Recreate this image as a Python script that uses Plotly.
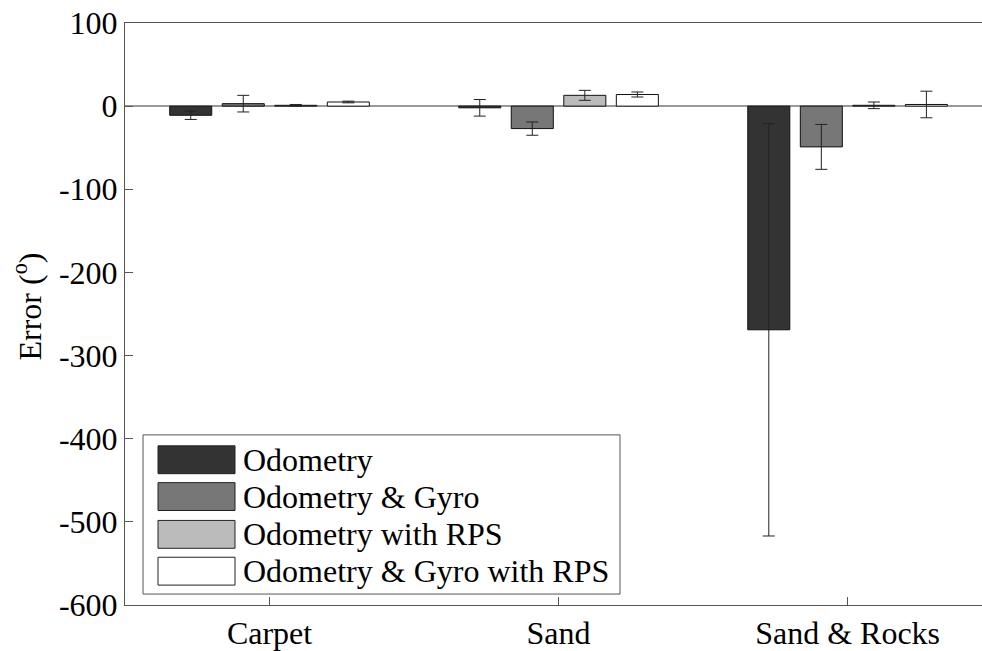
import plotly.graph_objects as go

# Surface types and heading error per method (degrees)
surfaces = ["Carpet", "Sand", "Sand & Rocks"]
methods = ["Odometry", "Odometry & Gyro", "Odometry with RPS", "Odometry & Gyro with RPS"]

odometry = [-11, -2, -269]
odometry_err = [5, 10, 248]
odo_gyro = [3, -27, -49]
odo_gyro_err = [10, 8, 27]
odo_rps = [1, 13, 1]
odo_rps_err = [1, 6, 4]
odo_gyro_rps = [5, 14, 2]
odo_gyro_rps_err = [1, 3, 16]

y_ticks = [100, 0, -100, -200, -300, -400, -500, -600]

series = [odometry, odo_gyro, odo_rps, odo_gyro_rps]
errors = [odometry_err, odo_gyro_err, odo_rps_err, odo_gyro_rps_err]
colors = ["#333333", "#777777", "#bbbbbb", "#ffffff"]

FONT = '"Liberation Serif", "DejaVu Serif", serif'
FS = 32

fig = go.Figure()
for name, vals, errs, col in zip(methods, series, errors, colors):
    fig.add_trace(go.Bar(
        name=name,
        x=surfaces,
        y=vals,
        marker=dict(color=col, line=dict(color="#111111", width=1)),
        error_y=dict(type="data", array=errs, visible=True,
                     color="#222222", thickness=1, width=6),
        showlegend=False,
    ))

# Boxed legend with wide swatches
lg_x0, lg_x1, lg_y0, lg_y1 = 143, 620, 437, 597
W, H = 982, 651
L, R, T, B = 125, 0, 23, 43
pw, ph = W - L - R, H - T - B


def px_x(x):
    return (x - L) / pw


def px_y(y):
    return 1 - (y - T) / ph


shapes = [dict(type="rect", xref="paper", yref="paper",
               x0=px_x(lg_x0), x1=px_x(lg_x1), y0=px_y(lg_y1), y1=px_y(lg_y0),
               line=dict(color="#555555", width=1), fillcolor="white", layer="above")]
annotations = []
row_centers = [462, 499, 537, 574]
for name, col, yc in zip(methods, colors, row_centers):
    shapes.append(dict(type="rect", xref="paper", yref="paper",
                       x0=px_x(158), x1=px_x(235), y0=px_y(yc + 14), y1=px_y(yc - 14),
                       line=dict(color="#222222", width=1), fillcolor=col, layer="above"))
    annotations.append(dict(text=name, xref="paper", yref="paper",
                            x=px_x(241), y=px_y(yc), xanchor="left", yanchor="middle",
                            showarrow=False, font=dict(family=FONT, size=FS, color="black")))

annotations.append(dict(text="Error (<sup>o</sup>)", xref="paper", yref="paper",
                        x=px_x(27), y=px_y(308), textangle=-90,
                        xanchor="center", yanchor="middle", showarrow=False,
                        font=dict(family=FONT, size=FS, color="black")))

fig.update_layout(
    width=W, height=H,
    margin=dict(l=L, r=R, t=T, b=B, pad=0),
    paper_bgcolor="white", plot_bgcolor="white",
    barmode="group", bargap=0.273, bargroupgap=0.2,
    font=dict(family=FONT, size=FS, color="black"),
    shapes=shapes, annotations=annotations,
)
fig.update_xaxes(
    range=[-0.5, 2.465], showline=True, linecolor="#555555", linewidth=1,
    mirror=True, ticks="inside", ticklen=8, tickcolor="#555555",
    showgrid=False, zeroline=False,
    tickfont=dict(family=FONT, size=FS, color="black"),
)
fig.update_yaxes(
    range=[-600, 100], tickvals=y_ticks, ticktext=[str(v) for v in y_ticks],
    showline=True, linecolor="#555555", linewidth=1, mirror=False,
    ticks="inside", ticklen=8, tickcolor="#555555",
    showgrid=False, zeroline=True, zerolinecolor="#999999", zerolinewidth=1.5,
    tickfont=dict(family=FONT, size=FS, color="black"),
)

fig.write_html("out.html")
